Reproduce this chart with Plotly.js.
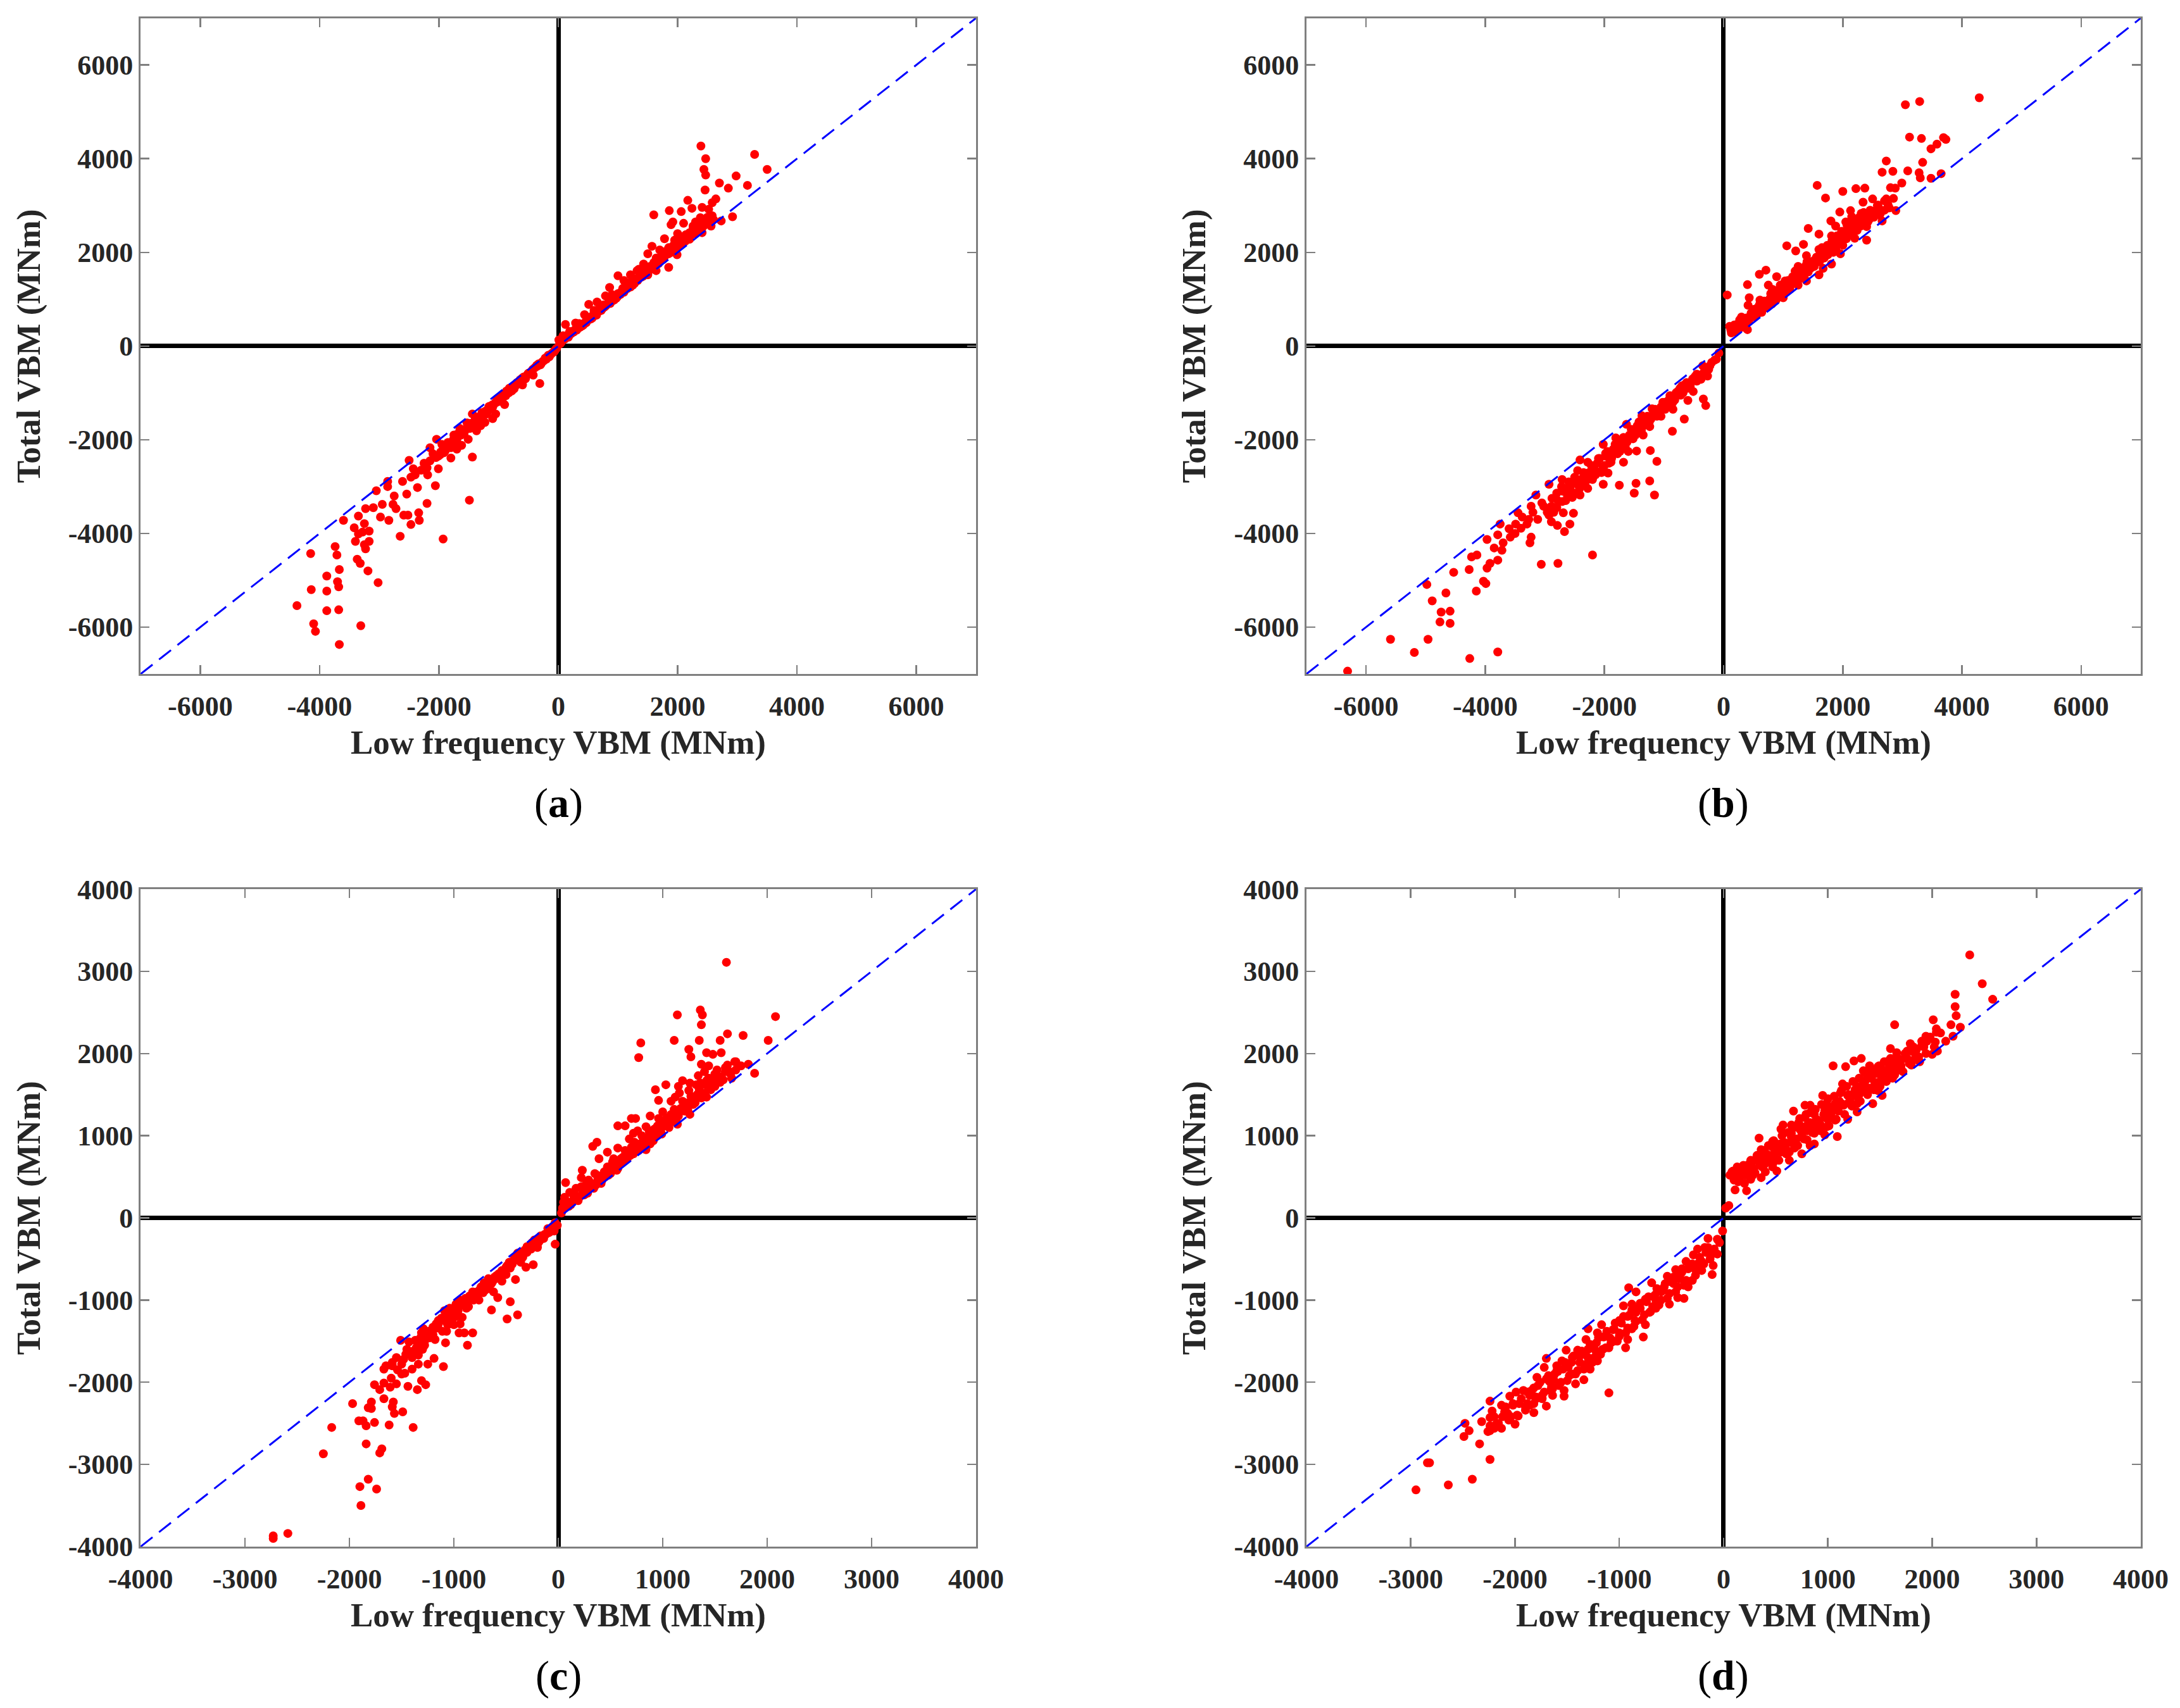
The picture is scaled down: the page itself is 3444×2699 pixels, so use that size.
<!DOCTYPE html>
<html>
<head>
<meta charset="utf-8">
<script src="https://cdn.plot.ly/plotly-3.0.1.min.js"></script>
<style>
html,body{margin:0;padding:0;background:#fff;}
#chart{width:3444px;height:2699px;}
</style>
</head>
<body>
<div id="chart"></div>
<script>
// ---------- data ----------
const rangeAB = [-7000, 7000];
const rangeCD = [-4000, 4000];
const ticksAB = [-6000, -4000, -2000, 0, 2000, 4000, 6000];
const ticksCD = [-4000, -3000, -2000, -1000, 0, 1000, 2000, 3000, 4000];

const panelLabels = ['a', 'b', 'c', 'd'];
const xTitle = 'Low frequency VBM (MNm)';
const yTitle = 'Total VBM (MNm)';

// panel (a): [low-frequency VBM, total VBM]
const aUpper = [
[2390,4270],[2470,4000],[2440,3770],[2470,3650],[2460,3330],[3290,4090],[3500,3770],[2980,3630],[2700,3480],[2850,3370],
[3170,3430],[2640,3140],[2580,3060],[2170,3110],[1860,2890],[1600,2800],[2060,2870],[2240,2940],[2410,2960],[2520,2920],
[2920,2760],[2730,2670],[2380,2740],[2490,2690],[1920,2650],[1890,2590],[2100,2620],[2260,2560],[2560,2560],[2410,2420],
[2200,2420],[1780,2290],[1570,2130],[1960,2150],[2130,2240],[1850,1970],[1990,1950],[1500,1970],[1850,1680],[1640,1880],
[1430,1750],[1320,1610],[1500,1520],[1210,1520],[1000,1500],[1140,1340],[860,1250],[1000,1120],[790,1070],[650,940],
[510,890],[720,760],[440,670],[290,490],[120,460],[360,400],[540,620],[80,220],[190,310],[10,130],
[930,980],[1280,1340],[1640,1610],[40,60],[60,100],[150,200],[230,280],[330,380],[420,450],[480,560],
[580,640],[620,700],[700,820],[760,880],[820,900],[880,1010],[960,1060],[1050,1150],[1080,1230],[1120,1200],
[1180,1290],[1240,1420],[1300,1390],[1360,1480],[1400,1560],[1450,1540],[1520,1680],[1560,1640],[1600,1780],[1680,1760],
[1720,1900],[1760,1850],[1800,2020],[1900,2080],[1950,2260],[2000,2120],[2050,2330],[2080,2200],[2150,2300],[2200,2280],
[2250,2450],[2300,2400],[2350,2500],[2400,2560],[2450,2580],[2500,2750],[2550,2680],[1100,1400],[1350,1640],[1700,2050],
[900,1100],[600,760],[350,480],[1250,1300],[1580,1700],[2000,2400],[2300,2650]
];
const aUpperBand = [
[20,40],[70,120],[110,150],[130,220],[170,190],[210,260],[260,300],[280,350],[310,340],[370,420],
[390,460],[440,480],[460,520],[510,560],[530,610],[570,600],[610,680],[640,660],[680,740],[720,780],
[740,800],[790,850],[810,880],[850,950],[870,910],[910,1000],[940,990],[990,1050],[1020,1100],[1060,1160],
[1090,1180],[1130,1250],[1160,1230],[1200,1320],[1220,1280],[1270,1380],[1310,1430],[1330,1400],[1380,1520],[1420,1490],
[1470,1600],[1490,1580],[1540,1700],[1570,1660],[1620,1740],[1660,1820],[1690,1790],[1740,1880],[1780,1920],[1820,1960],
[1870,2040],[1890,2000],[1930,2150],[1970,2080],[2020,2200],[2060,2250],[2110,2240],[2140,2380],[2180,2350],[2230,2380],
[2270,2480],[2320,2460],[2370,2620],[2420,2540],[2480,2640],[2530,2620],[2580,2780],[2600,2700],
[100,180],[180,240],[250,320],[320,400],[400,430],[470,500],[550,580],[600,720],[660,730],[700,760],
[770,830],[840,920],[900,960],[970,1020],[1040,1100],[1100,1150],[1150,1280],[1210,1260],[1260,1340],[1320,1440],
[1390,1470],[1440,1580],[1510,1620],[1580,1720],[1640,1800],[1710,1860],[1770,1880],[1850,2100],[1910,2100],[1980,2200],
[2040,2180],[2120,2350],[2190,2400],[2260,2520],[2330,2560],[2390,2520],[2450,2700],[2510,2650]
];
const aLower = [
[-310,-800],[-200,-280],[-450,-550],[-740,-910],[-1090,-1270],[-1050,-1450],[-1370,-1810],[-1230,-1630],[-1440,-1450],[-1510,-1990],
[-1440,-2370],[-1800,-2390],[-1800,-2170],[-1620,-2120],[-2040,-1990],[-2150,-2170],[-2010,-2350],[-2010,-2620],[-2190,-2750],[-2500,-2440],
[-2430,-2620],[-2610,-2890],[-2470,-2800],[-2360,-3020],[-2060,-2980],[-2860,-2890],[-2860,-3000],[-3050,-3090],[-2750,-3200],[-2540,-3160],
[-2770,-3380],[-2950,-3380],[-3100,-3450],[-3230,-3470],[-2720,-3470],[-3350,-3630],[-3600,-3720],[-2980,-3650],[-2840,-3720],[-2590,-3610],
[-2520,-3610],[-2340,-3560],[-2330,-3720],[-2470,-3810],[-2200,-3360],[-1490,-3290],[-3420,-3880],[-3250,-3790],[-3170,-3950],[-3350,-4010],
[-3280,-3970],[-2650,-4060],[-1930,-4120],[-3400,-4170],[-3170,-4170],[-3250,-4240],[-3230,-4330],[-3740,-4280],[-4150,-4430],[-3710,-4460],
[-3370,-4550],[-3320,-4640],[-3190,-4800],[-3670,-4770],[-3880,-4910],[-3700,-5030],[-3680,-5140],[-3020,-5050],[-4140,-5200],[-3880,-5230],
[-4380,-5540],[-3880,-5650],[-3680,-5630],[-4100,-5930],[-4070,-6090],[-3310,-5970],[-3670,-6370],[-50,-80],[-100,-150],[-150,-230],
[-250,-320],[-300,-400],[-380,-450],[-420,-620],[-500,-580],[-550,-700],[-600,-680],[-650,-800],[-700,-820],[-780,-960],
[-820,-900],[-880,-1060],[-930,-1030],[-980,-1180],[-1020,-1120],[-1120,-1330],[-1160,-1290],[-1200,-1450],[-1280,-1420],[-1330,-1560],
[-1400,-1600],[-1460,-1700],[-1530,-1640],[-1580,-1880],[-1650,-1760],[-1700,-2000],[-1750,-1900],[-1850,-2060],[-1900,-2250],[-1950,-2100],
[-2100,-2300],[-2250,-2500],[-900,-1250],[-1300,-1700],[-1700,-2200],[-600,-830],[-1100,-1550]
];
const aLowerBand = [
[-30,-50],[-70,-120],[-120,-170],[-170,-200],[-200,-250],[-230,-300],[-270,-340],[-330,-380],[-350,-430],[-400,-470],
[-430,-500],[-470,-560],[-520,-620],[-540,-640],[-580,-660],[-620,-740],[-660,-760],[-690,-780],[-730,-860],[-760,-880],
[-800,-920],[-840,-980],[-870,-960],[-910,-1080],[-950,-1100],[-990,-1120],[-1030,-1200],[-1070,-1230],[-1110,-1260],[-1140,-1330],
[-1180,-1380],[-1220,-1390],[-1250,-1470],[-1310,-1500],[-1350,-1520],[-1380,-1620],[-1420,-1660],[-1480,-1760],[-1500,-1680],[-1560,-1800],
[-1600,-1860],[-1630,-1900],[-1680,-1870],[-1720,-2050],[-1780,-2060],[-1820,-2150],[-1880,-2200],[-1920,-2280],[-1980,-2320],[-2050,-2380],
[-2150,-2450],[-2200,-2600],[-2300,-2650],[-2400,-2750],
[-60,-100],[-140,-200],[-220,-260],[-290,-380],[-360,-410],[-440,-530],[-510,-600],[-570,-690],[-640,-720],[-710,-840],
[-770,-870],[-830,-1000],[-900,-1020],[-960,-1140],[-1040,-1180],[-1100,-1300],[-1170,-1330],[-1240,-1420],[-1320,-1510],[-1390,-1560],
[-1470,-1650],[-1540,-1760],[-1610,-1820],[-1690,-1950],[-1760,-2000],[-1830,-2100],[-1900,-2180],[-1970,-2260]
];

// panel (b)
const bUpper = [
[4290,5300],[3050,5150],[3290,5220],[3120,4460],[3320,4430],[3690,4450],[3730,4410],[3580,4310],[3480,4210],[3340,3920],
[2730,3950],[2660,3710],[2840,3730],[3090,3740],[3280,3700],[3300,3590],[3480,3580],[3650,3680],[2990,3480],[2880,3370],
[2800,3380],[1570,3430],[1710,3160],[2000,3300],[2220,3360],[2370,3370],[2500,3140],[2730,3140],[2340,3070],[2590,3010],
[2890,2890],[2760,3010],[2660,2670],[1950,2860],[2130,2890],[2150,2760],[1800,2670],[2380,2740],[2490,2830],[2400,2260],
[1420,2510],[1600,2390],[1810,2350],[2030,2380],[2240,2470],[1880,2560],[1060,2140],[1340,2170],[1210,2030],[1390,1930],
[1600,2060],[1740,2150],[1880,2060],[1960,1970],[1810,1750],[1530,1840],[1670,1660],[1350,1660],[1250,1700],[1600,1520],
[1180,1480],[1390,1390],[1030,1390],[890,1480],[1110,1210],[960,1120],[820,1210],[750,1300],[600,1530],[710,1620],
[400,1310],[430,1030],[410,870],[610,980],[750,850],[820,940],[640,760],[470,670],[290,580],[400,350],
[150,400],[260,440],[130,280],[60,1090],[1000,1030],[1250,1300],[1460,1750],[2060,2290],[2240,2650],[2310,2830],
[200,300],[350,500],[500,650],[550,800],[700,900],[800,1050],[900,1150],[1100,1350],[1150,1420],[1300,1550],
[1450,1650],[1500,1800],[1700,1950],[1850,2200],[2000,2150],[2100,2500],[2200,2300],[2400,2550],[2550,2800],[2600,2950],
[1200,1600],[1400,1800],[1650,2100],[950,1300],[300,620],[1750,1950],[2050,2650],[2700,2900]
];
const bUpperBand = [
[120,350],[180,450],[230,380],[270,560],[320,450],[380,600],[420,520],[460,700],[520,620],[560,750],
[600,880],[640,720],[680,960],[720,820],[770,1000],[810,900],[850,1100],[880,980],[920,1200],[970,1080],
[1020,1250],[1050,1160],[1080,1400],[1130,1300],[1180,1380],[1220,1520],[1260,1420],[1310,1650],[1350,1500],[1380,1720],
[1420,1580],[1470,1800],[1520,1700],[1560,1900],[1610,1800],[1650,2000],[1690,1880],[1730,2100],[1780,2000],[1820,2250],
[1860,2100],[1900,2350],[1940,2200],[1980,2450],[2030,2300],[2070,2580],[2110,2400],[2150,2650],[2200,2500],[2260,2700],
[2300,2560],[2350,2850],[2420,2650],[2460,2900],[2520,2750],[2580,3000],[2640,2850],[2700,3100],[2780,2950],[2850,3150],
[100,420],[160,330],[250,480],[300,400],[360,560],[440,600],[500,780],[580,700],[620,820],[660,860],
[740,950],[790,1120],[830,1000],[900,1060],[950,1200],[1000,1150],[1060,1320],[1100,1260],[1160,1480],[1200,1380],
[1240,1600],[1280,1480],[1330,1560],[1370,1620],[1400,1700],[1440,1760],[1480,1680],[1540,1760],[1580,1840],[1620,1960],
[1660,1880],[1700,2050],[1760,2080],[1800,2150],[1840,2000],[1880,2300],[1920,2150],[1960,2300],[2000,2250],[2060,2400],
[2120,2550],[2180,2450],[2240,2600],[2280,2750],[2330,2600],[2380,2800],[2440,2700],[2500,2850],[2560,2900],[2620,2800]
];
const bLower = [
[-120,-280],[-350,-420],[-270,-640],[-380,-710],[-550,-780],[-730,-900],[-510,-970],[-340,-1130],[-300,-1270],[-600,-1160],
[-660,-1560],[-860,-1820],[-990,-1200],[-900,-1060],[-1200,-1340],[-1370,-1490],[-1240,-1720],[-1630,-1670],[-1500,-1820],[-1810,-1960],
[-1630,-2000],[-1460,-2240],[-1230,-2230],[-1120,-2460],[-2020,-2100],[-1980,-2290],[-2280,-2480],[-2150,-2660],[-2410,-2430],[-2450,-2660],
[-1890,-2480],[-1680,-2480],[-1940,-2710],[-2020,-2950],[-2280,-3040],[-2450,-2950],[-1750,-2970],[-1470,-2930],[-1240,-2880],[-1500,-3140],
[-1160,-3180],[-2710,-2850],[-2930,-2950],[-2800,-3140],[-2630,-3040],[-2540,-3230],[-2410,-3180],[-3150,-3180],[-3020,-3420],[-3230,-3420],
[-2890,-3420],[-2710,-3320],[-2930,-3610],[-2890,-3750],[-2690,-3560],[-2520,-3570],[-2580,-3800],[-2790,-3830],[-2670,-3960],[-3450,-3560],
[-3270,-3700],[-3490,-3800],[-3400,-3890],[-3750,-3800],[-3580,-4080],[-3790,-4030],[-3230,-4080],[-3250,-4200],[-3970,-4130],[-3850,-4310],
[-3720,-4360],[-3790,-4570],[-3920,-4640],[-3970,-4740],[-4230,-4500],[-4140,-4460],[-4270,-4770],[-4530,-4830],[-4030,-5020],[-3990,-5070],
[-4150,-5230],[-2200,-4460],[-3060,-4660],[-2780,-4640],[-4980,-5090],[-4660,-5270],[-4890,-5440],[-4740,-5680],[-4590,-5660],[-4760,-5890],
[-4590,-5920],[-5590,-6260],[-4960,-6260],[-5190,-6540],[-4260,-6670],[-3790,-6530],[-6310,-6940],[-450,-600],[-700,-850],[-800,-1000],
[-1000,-1300],[-1100,-1400],[-1300,-1600],[-1400,-1750],[-1550,-1900],[-1700,-2100],[-1800,-2200],[-1900,-2350],[-2100,-2400],[-2200,-2600],
[-2350,-2800],[-2600,-2900],[-1050,-1500],[-1350,-1900],[-1600,-2250],[-850,-1350],[-2000,-2550]
];
const bLowerBand = [
[-80,-150],[-200,-350],[-250,-500],[-330,-560],[-420,-700],[-480,-650],[-560,-860],[-620,-780],[-680,-1000],[-750,-950],
[-820,-1150],[-880,-1080],[-940,-1250],[-1020,-1200],[-1080,-1450],[-1150,-1350],[-1220,-1560],[-1280,-1500],[-1340,-1700],[-1420,-1620],
[-1480,-1900],[-1550,-1780],[-1620,-2050],[-1680,-1950],[-1740,-2250],[-1820,-2100],[-1880,-2400],[-1950,-2250],[-2020,-2600],[-2080,-2400],
[-2150,-2750],[-2220,-2550],[-2280,-2850],[-2350,-2700],[-2420,-3050],[-2500,-2800],[-2560,-3100],[-2650,-3300],[-2720,-3000],[-2800,-3450],
[-2880,-3250],[-2960,-3550],[-3050,-3350],[-3120,-3700],[-3200,-3550],[-3300,-3800],[-3380,-3650],[-3500,-4000],[-3600,-3900],[-3700,-4200],
[-150,-300],[-230,-420],[-300,-500],[-370,-620],[-450,-750],[-520,-700],[-600,-900],[-650,-820],[-720,-1050],[-780,-980],
[-850,-1200],[-920,-1150],[-980,-1350],[-1050,-1300],[-1120,-1500],[-1180,-1450],[-1250,-1650],[-1320,-1560],[-1380,-1800],[-1450,-1700],
[-1520,-1980],[-1580,-1900],[-1650,-2150],[-1720,-2050],[-1780,-2300],[-1850,-2200],[-1920,-2500],[-1980,-2350],[-2050,-2700],[-2120,-2500],
[-2200,-2850],[-2260,-2700],[-2330,-2950],[-2400,-2850],[-2480,-3150],[-2550,-2950],[-2620,-3200],[-2700,-3100],[-2780,-3300],[-2850,-3550]
];

// panel (c)
const cUpper = [
[1610,3110],[1140,2470],[1360,2530],[1380,2470],[1370,2350],[2080,2450],[1620,2240],[1770,2220],[2010,2160],[790,2130],
[770,1950],[1110,2160],[1350,2160],[1550,2160],[1250,2050],[1270,1960],[1420,2010],[1480,1990],[1560,2010],[1690,1900],
[1820,1870],[1880,1760],[1370,1870],[1440,1850],[1600,1830],[1640,1780],[1340,1730],[1420,1670],[1540,1690],[1660,1700],
[1190,1670],[1260,1640],[1030,1620],[930,1560],[1160,1520],[1420,1470],[1400,1520],[960,1430],[1080,1420],[1280,1390],
[1260,1260],[1160,1310],[1000,1290],[880,1240],[700,1210],[740,1210],[570,1120],[640,1120],[1140,1140],[1060,1140],
[840,1110],[920,1080],[1000,1110],[720,1030],[820,980],[680,960],[880,900],[760,850],[570,850],[840,830],
[370,920],[330,870],[470,800],[530,720],[390,720],[630,700],[570,600],[470,620],[230,580],[220,490],
[350,540],[410,490],[330,390],[270,440],[170,360],[70,430],[110,310],[230,290],[50,190],[130,190],
[70,130],[190,210],[1400,1780],[1320,1620],[1120,1470],[1240,1310],[960,1210],[760,1060],[1080,1260],[30,60],
[100,140],[150,240],[260,330],[300,380],[400,500],[450,560],[500,620],[600,720],[650,780],[700,860],
[780,900],[850,980],[900,1050],[950,1000],[1000,1180],[1050,1220],[1100,1250],[1200,1350],[1300,1450],[1350,1560],
[1450,1600],[1500,1750],[1580,1680],[1700,1800],[1500,1600],[1150,1600],[1250,1550],[800,1000],[550,680]
];
const cUpperBand = [
[40,120],[80,200],[120,160],[160,280],[200,250],[240,340],[280,300],[320,420],[360,400],[380,480],
[420,460],[440,560],[480,520],[520,600],[540,660],[580,640],[620,740],[660,720],[680,800],[720,780],
[760,880],[790,860],[820,940],[860,920],[880,1000],[920,980],[940,1080],[980,1060],[1020,1150],[1060,1100],
[1090,1220],[1130,1200],[1170,1330],[1210,1300],[1240,1400],[1290,1380],[1330,1500],[1370,1460],[1410,1620],[1460,1560],
[1500,1700],[1550,1650],[1600,1780],[1650,1750],[1700,1900],[1750,1850],
[60,250],[90,150],[140,300],[180,220],[220,380],[250,280],[290,460],[340,360],[370,520],[410,420],
[450,500],[500,540],[520,680],[560,580],[600,660],[640,820],[690,760],[730,920],[770,820],[810,980],
[840,880],[870,1060],[910,940],[950,1120],[990,1020],[1030,1200],[1070,1160],[1110,1320],[1150,1240],[1190,1420],
[1230,1340],[1270,1480],[1310,1400],[1360,1640],[1400,1480],[1440,1700],[1480,1640],[1520,1800],[1560,1720],[1620,1860]
];
const cLower = [
[-30,-320],[-10,-90],[-80,-170],[-140,-250],[-240,-330],[-300,-420],[-240,-570],[-310,-600],[-400,-500],[-460,-610],
[-410,-750],[-500,-690],[-540,-770],[-580,-970],[-460,-1020],[-640,-1120],[-490,-1230],[-390,-1180],[-660,-860],[-720,-910],
[-820,-990],[-900,-1020],[-860,-1080],[-960,-1130],[-980,-1050],[-1040,-1100],[-920,-1210],[-940,-1290],[-1070,-1240],[-1090,-1130],
[-1070,-1380],[-950,-1400],[-900,-1400],[-820,-1400],[-870,-1550],[-1080,-1520],[-1170,-1290],[-1210,-1380],[-1230,-1460],[-1290,-1350],
[-1310,-1400],[-1370,-1490],[-1430,-1510],[-1510,-1490],[-1280,-1550],[-1390,-1620],[-1460,-1660],[-1340,-1670],[-1190,-1710],[-1250,-1780],
[-1340,-1780],[-1400,-1840],[-1500,-1780],[-1590,-1760],[-1590,-1800],[-1670,-1840],[-1470,-1890],[-1100,-1810],[-1760,-2030],[-1670,-2010],
[-1550,-2020],[-1610,-2060],[-1710,-2090],[-1670,-2200],[-1440,-2050],[-1350,-2090],[-1310,-1980],[-1270,-2030],[-1970,-2260],[-1790,-2240],
[-1820,-2310],[-1790,-2320],[-1580,-2240],[-1590,-2300],[-1570,-2380],[-1490,-2360],[-1910,-2470],[-1870,-2470],[-1840,-2530],[-1760,-2490],
[-1620,-2520],[-1390,-2550],[-2170,-2550],[-1840,-2750],[-1690,-2810],[-1710,-2860],[-2250,-2870],[-1820,-3180],[-1900,-3270],[-1740,-3300],
[-1890,-3500],[-2730,-3870],[-2730,-3900],[-2590,-3840],[-50,-100],[-120,-200],[-180,-280],[-200,-360],[-280,-380],[-340,-480],
[-360,-540],[-440,-560],[-520,-640],[-560,-720],[-600,-740],[-640,-800],[-700,-820],[-740,-880],[-780,-940],[-840,-960],
[-1000,-1160],[-1050,-1200],[-1150,-1300],[-1200,-1330],[-620,-900],[-760,-1000],[-1000,-1300]
];
const cLowerBand = [
[-30,-60],[-60,-140],[-100,-130],[-130,-200],[-170,-220],[-210,-290],[-250,-300],[-280,-360],[-320,-390],[-360,-450],
[-390,-430],[-430,-530],[-470,-540],[-500,-600],[-540,-640],[-570,-680],[-610,-720],[-650,-760],[-680,-840],[-710,-790],
[-750,-870],[-790,-920],[-820,-900],[-860,-1000],[-890,-980],[-930,-1060],[-970,-1090],[-1010,-1150],[-1050,-1160],[-1090,-1250],
[-1120,-1220],[-1160,-1340],[-1200,-1420],[-1240,-1380],[-1280,-1500],[-1320,-1460],[-1360,-1580],[-1420,-1650],[-1480,-1720],[-1540,-1850],
[-40,-160],[-90,-180],[-150,-230],[-190,-300],[-230,-270],[-260,-380],[-300,-350],[-340,-420],[-380,-480],[-420,-490],
[-460,-560],[-490,-580],[-530,-680],[-590,-700],[-630,-780],[-670,-740],[-700,-880],[-740,-840],[-780,-900],[-810,-1000],
[-850,-950],[-880,-1100],[-940,-1000],[-980,-1200],[-1020,-1250],[-1060,-1300],[-1110,-1380],[-1150,-1250],[-1180,-1480],[-1250,-1420],
[-1300,-1600],[-1350,-1520],[-1400,-1700],[-1450,-1600],[-1500,-1900],[-1550,-1700],[-1600,-1950],[-1650,-1800]
];

// panel (d)
const dUpper = [
[2360,3200],[2480,2850],[2580,2660],[2220,2720],[2220,2570],[2230,2460],[2270,2320],[2200,2210],[2010,2410],[2040,2300],
[2040,2260],[1940,2210],[2030,2140],[2050,2030],[1900,2100],[2000,1990],[1640,2350],[1790,2120],[1760,2030],[1820,2020],
[1820,1920],[1870,1960],[1600,2060],[1660,2010],[1710,1930],[1560,1900],[1620,1850],[1680,1800],[1580,1800],[1050,1850],
[1170,1840],[1250,1910],[1320,1940],[1400,1850],[1490,1850],[1340,1790],[1440,1750],[1520,1700],[1620,1700],[1360,1670],
[1280,1600],[1400,1570],[1480,1550],[1520,1490],[1430,1390],[1280,1390],[1140,1630],[1130,1550],[1190,1490],[950,1490],
[990,1390],[1070,1390],[1150,1370],[1280,1290],[1190,1200],[1030,1290],[970,1310],[780,1370],[830,1370],[670,1300],
[790,1260],[870,1260],[730,1210],[830,1160],[930,1130],[990,1110],[1070,1190],[750,1110],[570,1130],[550,1080],
[650,1030],[750,1030],[870,1030],[970,1010],[1090,990],[340,970],[470,930],[570,900],[710,880],[830,880],
[870,900],[490,830],[630,800],[750,780],[360,830],[360,780],[450,750],[300,700],[530,700],[630,700],
[390,650],[470,620],[510,570],[260,620],[220,610],[90,570],[140,580],[180,540],[80,520],[360,490],
[280,520],[140,440],[200,420],[110,340],[220,330],[50,150],[20,120],[260,470],[650,1130],[400,560],
[480,680],[600,780],[680,850],[800,950],[900,1100],[1000,1200],[1100,1300],[1200,1400],[1300,1500],[1350,1600],
[1450,1650],[1550,1750],[1650,1900],[1700,1850],[1750,2000],[1850,2050],[1950,2150],[300,550],[550,800]
];
const dUpperBand = [
[60,520],[100,460],[130,620],[160,500],[190,640],[230,560],[260,700],[290,600],[320,760],[350,640],
[380,820],[400,700],[430,880],[460,760],[480,940],[510,800],[540,900],[560,1000],[590,860],[620,1040],
[640,920],[670,1100],[700,960],[720,1160],[750,1000],[780,1220],[800,1060],[830,1280],[860,1120],[880,1320],
[910,1180],[940,1380],[970,1220],[1000,1450],[1030,1260],[1060,1480],[1090,1320],[1120,1520],[1150,1380],[1180,1600],
[1210,1420],[1240,1660],[1270,1480],[1300,1700],[1330,1540],[1360,1760],[1390,1580],[1420,1800],[1450,1620],[1480,1840],
[1510,1680],[1540,1900],[1570,1720],[1600,1940],[1630,1780],[1660,1960],[1700,1820],[1740,2000],[1780,1880],[1820,2080],
[1860,1940],[1900,2150],[1940,2000],[1980,2200],[2020,2080],[2080,2250],[2130,2150],[2180,2350],
[80,560],[120,520],[150,580],[210,520],[240,650],[270,560],[330,700],[370,620],[410,780],[440,680],
[470,860],[500,720],[530,820],[580,920],[610,820],[650,980],[690,900],[730,1080],[770,960],[810,1140],
[850,1040],[890,1200],[930,1060],[960,1260],[1010,1120],[1040,1340],[1080,1200],[1110,1420],[1160,1260],[1200,1500],
[1230,1360],[1260,1560],[1310,1420],[1340,1660],[1380,1500],[1410,1700],[1440,1560],[1470,1760],[1500,1600],[1530,1800],
[1560,1660],[1590,1860],[1640,1740],[1680,1900],[1720,1780],[1760,1940],[1800,1860],[1840,2000],[1880,1900],[1920,2080]
];
const dLower = [
[-10,-160],[-180,-360],[-60,-440],[-100,-580],[-110,-690],[-210,-530],[-290,-450],[-360,-530],[-270,-630],[-460,-630],
[-420,-740],[-340,-840],[-380,-980],[-440,-970],[-540,-710],[-570,-840],[-520,-1050],[-650,-1100],[-690,-790],[-910,-850],
[-840,-900],[-750,-990],[-710,-1150],[-750,-1300],[-770,-1450],[-840,-1150],[-880,-1050],[-960,-1070],[-920,-1200],[-880,-1350],
[-920,-1480],[-940,-1580],[-1000,-1250],[-1050,-1350],[-1090,-1460],[-1170,-1300],[-1130,-1580],[-1210,-1400],[-1300,-1350],[-1320,-1480],
[-1230,-1610],[-1210,-1740],[-1340,-1660],[-1400,-1610],[-1380,-1760],[-1280,-1840],[-1340,-1970],[-1420,-2020],[-1510,-1610],[-1550,-1740],
[-1490,-1820],[-1590,-1870],[-1700,-1710],[-1720,-1820],[-1630,-1970],[-1530,-2100],[-1530,-2170],[-1670,-1990],[-1790,-1940],[-1740,-2160],
[-1640,-2160],[-1700,-2290],[-1100,-2130],[-1820,-2070],[-1880,-2120],[-1860,-2280],[-1820,-2370],[-1920,-2100],[-1990,-2120],[-2050,-2170],
[-2020,-2280],[-2090,-2300],[-2130,-2280],[-2070,-2380],[-1970,-2410],[-2000,-2510],[-2240,-2230],[-2220,-2350],[-2240,-2430],[-2240,-2530],
[-2240,-2590],[-2130,-2560],[-2180,-2510],[-2480,-2500],[-2440,-2590],[-2490,-2660],[-2340,-2750],[-2240,-2940],[-2820,-2980],[-2840,-2980],
[-2410,-3180],[-2640,-3250],[-2950,-3310],[-150,-250],[-250,-380],[-300,-560],[-400,-660],[-480,-800],[-600,-900],[-650,-1000],
[-800,-1100],[-850,-1250],[-1000,-1400],[-1050,-1500],[-1150,-1450],[-1250,-1550],[-1300,-1700],[-1450,-1700],[-1450,-1900],[-1600,-1800],
[-1650,-2050],[-1800,-2200],[-1900,-2300]
];
const dLowerBand = [
[-40,-300],[-90,-380],[-130,-500],[-170,-420],[-210,-640],[-250,-560],[-300,-760],[-340,-620],[-380,-820],[-420,-700],
[-460,-900],[-500,-780],[-540,-980],[-580,-880],[-620,-1060],[-660,-940],[-700,-1140],[-740,-1020],[-780,-1240],[-820,-1100],
[-860,-1320],[-900,-1180],[-940,-1400],[-980,-1280],[-1020,-1500],[-1060,-1360],[-1100,-1580],[-1140,-1440],[-1180,-1660],[-1220,-1520],
[-1260,-1760],[-1300,-1600],[-1340,-1840],[-1380,-1680],[-1420,-1900],[-1460,-1760],[-1500,-1980],[-1540,-1840],[-1580,-2040],[-1620,-1900],
[-1660,-2100],[-1700,-1960],[-1740,-2200],[-1780,-2040],[-1820,-2260],[-1860,-2160],[-1900,-2340],[-1940,-2200],[-1980,-2400],[-2020,-2260],
[-2060,-2460],[-2100,-2360],[-2160,-2500],[-2200,-2420],[-2260,-2600],[-2320,-2480],
[-60,-260],[-110,-440],[-150,-360],[-190,-560],[-230,-480],[-270,-700],[-320,-580],[-360,-760],[-400,-620],[-440,-840],
[-480,-720],[-520,-920],[-560,-800],[-600,-1000],[-640,-860],[-680,-1080],[-720,-960],[-760,-1180],[-800,-1040],[-840,-1260],
[-880,-1120],[-920,-1340],[-960,-1200],[-1000,-1440],[-1040,-1280],[-1080,-1520],[-1120,-1380],[-1160,-1600],[-1200,-1460],[-1240,-1700],
[-1280,-1540],[-1320,-1780],[-1360,-1620],[-1400,-1860],[-1440,-1680],[-1480,-1920],[-1520,-1760],[-1560,-2000],[-1600,-1860],[-1640,-2080],
[-1680,-1920],[-1720,-2120],[-1760,-2000],[-1800,-2180],[-1840,-2100],[-1880,-2260],[-1960,-2260],[-2040,-2420],[-2120,-2420],[-2200,-2560]
];

// ---------- drawing ----------
const serif = 'Liberation Serif, Times New Roman, serif';
const boxGrey = '#7f7f7f';
const textCol = '#262626';

const panels = [
  {pts: aUpper.concat(aUpperBand, aLower, aLowerBand), range: rangeAB, ticks: ticksAB, xd: [0.0645, 0.4477], yd: [0.6054, 0.9894]},
  {pts: bUpper.concat(bUpperBand, bLower, bLowerBand), range: rangeAB, ticks: ticksAB, xd: [0.5993, 0.9820], yd: [0.6054, 0.9894]},
  {pts: cUpper.concat(cUpperBand, cLower, cLowerBand), range: rangeCD, ticks: ticksCD, xd: [0.0645, 0.4477], yd: [0.0945, 0.4794]},
  {pts: dUpper.concat(dUpperBand, dLower, dLowerBand), range: rangeCD, ticks: ticksCD, xd: [0.5993, 0.9820], yd: [0.0945, 0.4794]}
];

const traces = [];
const layout = {
  width: 3444, height: 2699,
  margin: {l: 0, r: 0, t: 0, b: 0},
  paper_bgcolor: '#ffffff', plot_bgcolor: '#ffffff',
  showlegend: false,
  annotations: []
};

panels.forEach((p, i) => {
  const n = i === 0 ? '' : String(i + 1);
  const xa = 'x' + n, ya = 'y' + n;
  traces.push({
    type: 'scatter', mode: 'markers', xaxis: xa, yaxis: ya,
    x: p.pts.map(q => q[0]), y: p.pts.map(q => q[1]),
    marker: {color: '#ff0000', size: 14, line: {width: 0}},
    hoverinfo: 'skip', cliponaxis: false
  });
  traces.push({
    type: 'scatter', mode: 'lines', xaxis: xa, yaxis: ya,
    x: p.range, y: p.range,
    line: {color: '#0000ff', width: 3, dash: '24px,13px'},
    hoverinfo: 'skip'
  });
  const common = {
    range: p.range, tickmode: 'array', tickvals: p.ticks, ticktext: p.ticks.map(String),
    ticks: 'inside', ticklen: 14, tickwidth: 2.5, tickcolor: boxGrey,
    showline: true, linecolor: boxGrey, linewidth: 3, mirror: 'ticks',
    showgrid: false, zeroline: true, zerolinecolor: '#000000', zerolinewidth: 7,
    tickfont: {family: serif, size: 44, color: textCol, weight: 'bold'},
    automargin: false, fixedrange: true
  };
  layout['xaxis' + n] = Object.assign({}, common, {
    domain: p.xd, anchor: ya, ticklabelstandoff: 10,
    title: {text: xTitle, standoff: 15, font: {family: serif, size: 53, color: textCol, weight: 'bold'}}
  });
  layout['yaxis' + n] = Object.assign({}, common, {
    domain: p.yd, anchor: xa,
    title: {text: yTitle, standoff: 28, font: {family: serif, size: 53, color: textCol, weight: 'bold'}}
  });
  layout.annotations.push({
    xref: 'paper', yref: 'paper',
    x: (p.xd[0] + p.xd[1]) / 2, y: p.yd[0] - 0.0756,
    xanchor: 'center', yanchor: 'middle', showarrow: false,
    text: '(<b>' + panelLabels[i] + '</b>)',
    font: {family: serif, size: 66, color: '#000000'}
  });
});

Plotly.newPlot('chart', traces, layout, {staticPlot: true, displayModeBar: false});
</script>
</body>
</html>
